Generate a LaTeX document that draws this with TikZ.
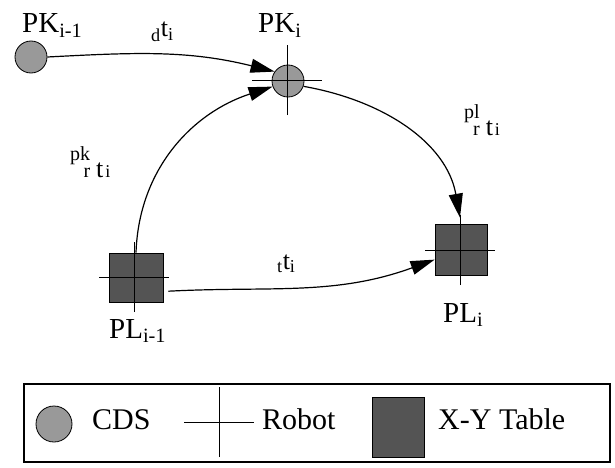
\documentclass[tikz,border=0pt]{standalone}
\usepackage{fontspec}
\setmainfont{Liberation Serif}
\usetikzlibrary{arrows.meta,calc}

\definecolor{cdsgray}{gray}{0.6}
\definecolor{tablegray}{gray}{0.33}

% Zeitlabel mit gestapeltem Praefix (oben/unten)
\newcommand\stacktime[2]{{\fontsize{20}{20}\selectfont\shortstack[r]{#1\\#2}}\kern6pt t\kern2pt{\fontsize{18}{18}\selectfont i}}

\begin{document}
\begin{tikzpicture}[x=1pt,y=1pt,
  cds/.style={circle, draw, line width=0.8pt, fill=cdsgray, minimum size=32pt, inner sep=0pt},
  xytable/.style={rectangle, draw, line width=0.8pt, fill=tablegray, inner sep=0pt},
  robot/.pic={\draw[line width=0.9pt] (-\arm,0) -- (\arm,0) (0,-\arm) -- (0,\arm);},
  flow/.style={-{Triangle[length=24pt,width=14pt]}, line width=1.2pt},
  bigtxt/.style={font=\fontsize{29}{32}\selectfont, anchor=base west, inner sep=0pt},
  midtxt/.style={font=\fontsize{26}{28}\selectfont, anchor=base west, inner sep=0pt},
  legtxt/.style={font=\fontsize{30}{33}\selectfont, anchor=base west, inner sep=0pt}]

% ---------- Parameter (Kreuzgroesse Roboter) ----------
\def\arm{35}

% Gesamt-Boundingbox wie Vorlage
\useasboundingbox (0,0) rectangle (615,467);

% ===================
% Stationen: CDS (Kreis), X-Y Tisch (Quadrat)
% ===================
\node[cds] (pkprev) at (31,410) {};
\node[cds] (pkcur) at (288,386) {};
\node[xytable, minimum width=54pt, minimum height=49pt] (plprev) at (136,189.5) {};
\node[xytable, minimum width=52pt, minimum height=51pt] (plcur) at (461,217.5) {};

% Roboter-Kreuze
\pic at (287,387) {robot};
\pic at (134,190) {robot};
\pic at (460,217) {robot};

% Beschriftungen
\node[bigtxt] (pkprevlbl) at (22,434) {PK\textsubscript{i-1}};
\node[bigtxt] (pkcurlbl) at (258,434) {PK\textsubscript{i}};
\node[bigtxt] (plprevlbl) at (109,129) {PL\textsubscript{i-1}};
\node[bigtxt] (plcurlbl) at (443,145) {PL\textsubscript{i}};

% ===================
% Zeiten (Pfeile)
% ===================
\draw[flow] (pkprev.east) to[out=3, in=166] (pkcur.145);
\draw[flow] (plprev.north) to[out=88, in=198] (pkcur.200);
\draw[flow, shorten >=6pt] (pkcur.-19) to[out=-10, in=100] (plcur.north);
\draw[flow, shorten <=5pt] (plprev.-27) to[out=3, in=200] (plcur.201);

\node[midtxt] (dtlbl) at (151,430) {\textsubscript{d}t\textsubscript{i}};
\node[midtxt] (pktlbl) at (70,290) {\stacktime{pk}{r}};
\node[midtxt] (pltlbl) at (464,332) {\stacktime{pl}{r}};
\node[midtxt] (ttlbl) at (277,198) {\textsubscript{t}t\textsubscript{i}};

% ===================
% Legende
% ===================
\node[draw, line width=1.2pt, minimum width=586pt, minimum height=78pt] (legend) at (317,44) {};
\node[cds, minimum size=36pt] (legcds) at (54,43) {};
\pic at (219,45) {robot};
\node[xytable, minimum width=52pt, minimum height=60pt] (legtable) at (398,40) {};

\node[legtxt] (legcdslbl) at (92,38) {CDS};
\node[legtxt] (legrobotlbl) at (262,38) {Robot};
\node[legtxt] (legtablelbl) at (438,38) {X-Y Table};

\end{tikzpicture}
\end{document}
